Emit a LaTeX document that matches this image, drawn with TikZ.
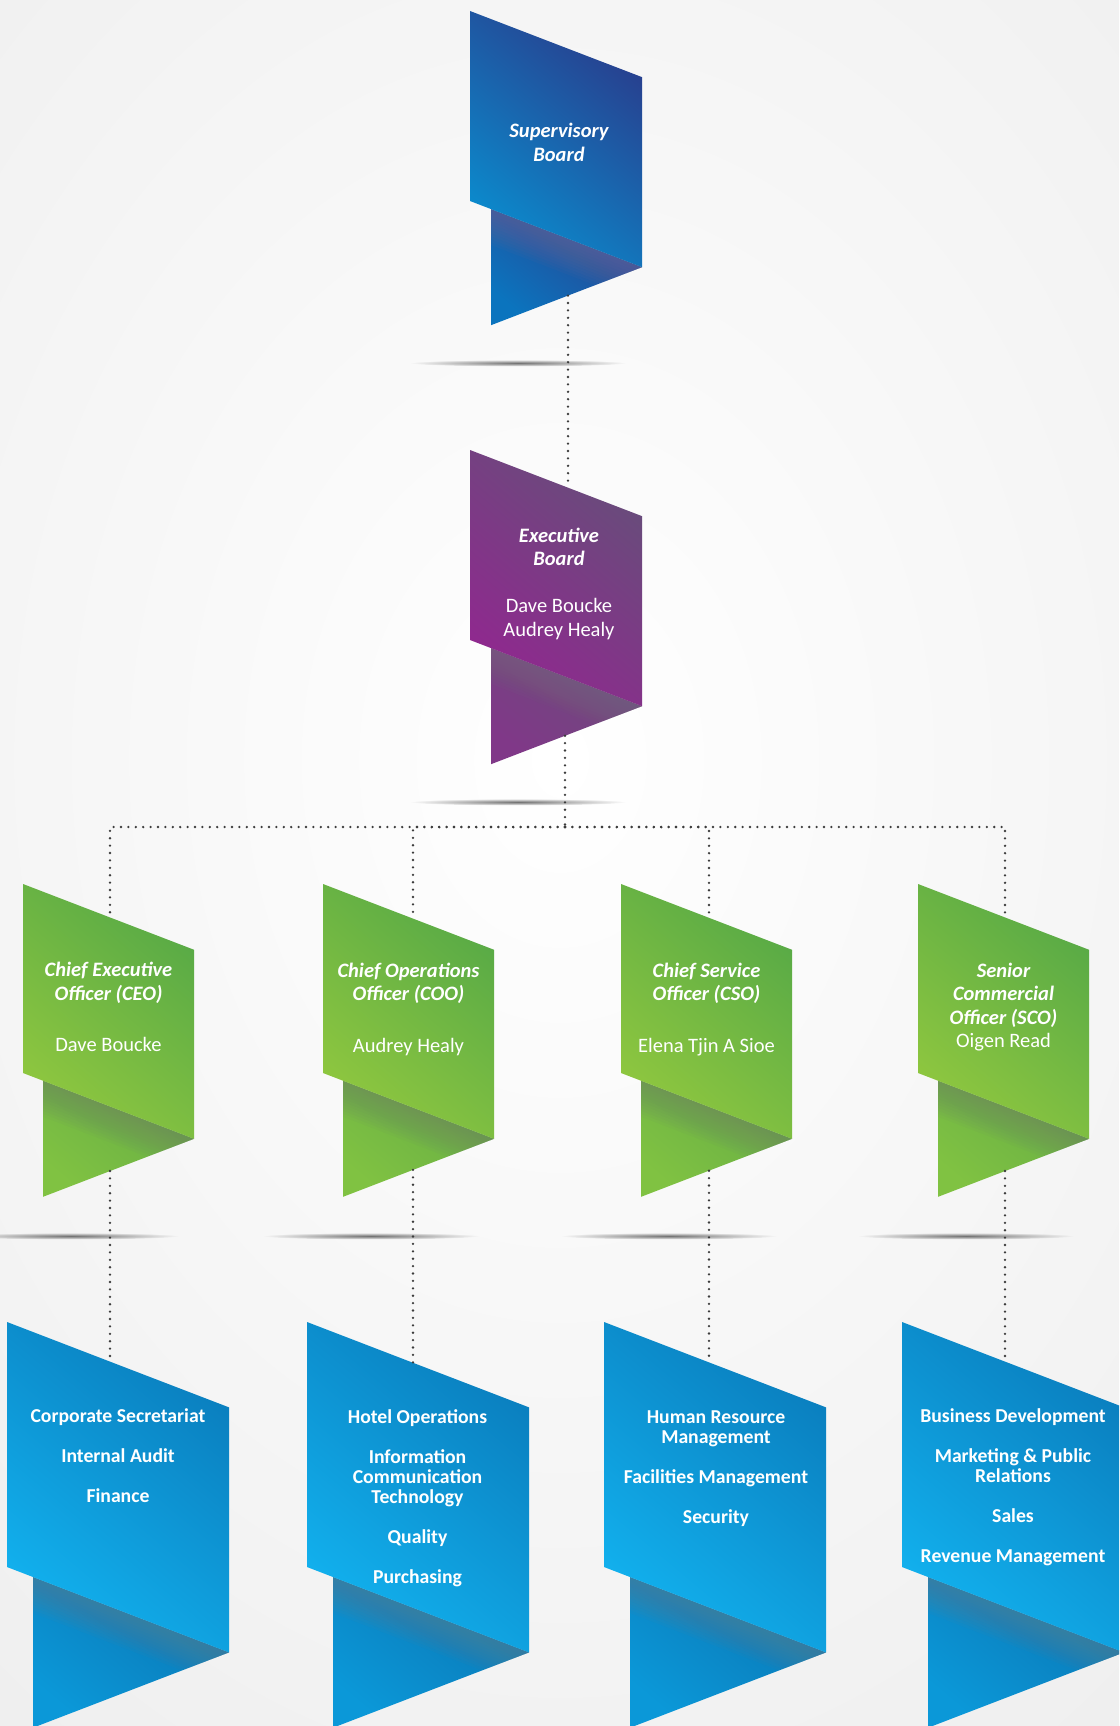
\documentclass[tikz,border=0pt]{standalone}
\usepackage{fontspec}
\setmainfont{Carlito}
\usetikzlibrary{fadings}

\definecolor{bgc}{HTML}{EBEBEB}
% navy (supervisory)
\definecolor{nvupD}{HTML}{283F8E}
\definecolor{nvupL}{HTML}{0B8BCD}
\definecolor{nvlowD}{HTML}{2A4290}
\definecolor{nvlowL}{HTML}{0B74BE}
\definecolor{nvsh}{HTML}{6A6A9A}
% purple (executive)
\definecolor{puupD}{HTML}{684C7B}
\definecolor{puupL}{HTML}{90288F}
\definecolor{pulowD}{HTML}{6C4C7C}
\definecolor{pulowL}{HTML}{803888}
\definecolor{push}{HTML}{76687E}
% green
\definecolor{gnupD}{HTML}{58AA46}
\definecolor{gnupL}{HTML}{8FC73F}
\definecolor{gnlowD}{HTML}{66AD45}
\definecolor{gnlowL}{HTML}{80C242}
\definecolor{gnsh}{HTML}{6E8A62}
% cyan (departments)
\definecolor{cyupD}{HTML}{0A7EBE}
\definecolor{cyupL}{HTML}{12B1EE}
\definecolor{cylowD}{HTML}{0A76B4}
\definecolor{cylowL}{HTML}{0B98D8}
\definecolor{cysh}{HTML}{557F98}
\definecolor{dotc}{HTML}{3C3C3C}

\tikzfading[name=softline, inner color=transparent!0, outer color=transparent!100]

\def\s{0.3845}
% #1 L, #2 T, #3 W, #4 H, #5 d, #6 palette
\newcommand\ribbon[6]{%
  \shade[top color=#6lowD, bottom color=#6lowL, shading angle=-40]
    ({#1+#5},{#2+#4+\s*#5}) -- ({#1+#3},{#2+#4+\s*#3}) -- ({#1+#5},{#2+#4+\s*#5+2*\s*(#3-#5)}) -- cycle;
  \begin{scope}
    \clip ({#1+#5},{#2+#4+\s*#5}) -- ({#1+#3},{#2+#4+\s*#3}) -- ({#1+#5},{#2+#4+\s*#5+2*\s*(#3-#5)}) -- cycle;
    \foreach \k in {1,...,12}{
      \fill[#6sh, opacity=0.075] (#1,{#2+#4}) -- ({#1+#3},{#2+#4+\s*#3}) -- ({#1+#3},{#2+#4+\s*#3+3*\k}) -- (#1,{#2+#4+3*\k}) -- cycle;
    }
  \end{scope}
  \shade[top color=#6upD, bottom color=#6upL, shading angle=-40]
    (#1,#2) -- ({#1+#3},{#2+\s*#3}) -- ({#1+#3},{#2+#4+\s*#3}) -- (#1,{#2+#4}) -- cycle;
}
\newcommand\floorline[2]{%
  \fill[black!55, path fading=softline] ({#1+48},#2) ellipse (108 and 3.4);
}
\newcommand\ti[1]{{\bfseries\itshape #1}}
\newcommand\blk[1]{\begin{tabular}[t]{@{}c@{}}#1\end{tabular}}

\tikzset{
  conn/.style={draw=dotc, line width=2.6pt, line cap=round, dash pattern=on 0pt off 7.4pt},
  txt/.style={text=white, inner sep=0pt, anchor=base, font=\fontsize{20.5}{23.5}\selectfont},
  dept/.style={text=white, inner sep=0pt, anchor=base, font=\fontsize{19.7}{20}\selectfont\bfseries},
}

\begin{document}
\begin{tikzpicture}[x=1pt,y=-1pt]
\clip (0,0) rectangle (1119,1726);
% background
\fill[bgc] (0,0) rectangle (1119,1726);
\shade[inner color=white, outer color=bgc] (560,760) ellipse (1150 and 1500);

% floor shadows
\floorline{470}{363}
\floorline{470}{802}
\foreach \L in {23,323,621,918}{\floorline{\L}{1236}}

% shapes
\ribbon{470}{11}{172}{190}{21}{nv}
\ribbon{470}{450}{172}{190}{21}{pu}
\foreach \L in {23,323,621,918}{\ribbon{\L}{884}{171}{189}{20}{gn}}
\foreach \L in {7,307,604,902}{\ribbon{\L}{1322}{222}{245}{26}{cy}}

% connection points
\coordinate (sbBot) at (568,295.6);
\coordinate (ebTop) at (568,487.7);
\coordinate (ebBot) at (565,735.7);
\coordinate (hub) at (565,827);
\coordinate (ceoTop) at (110,917.5);
\coordinate (cooTop) at (413,918.6);
\coordinate (csoTop) at (709,917.8);
\coordinate (scoTop) at (1005,917.5);
\coordinate (ceoBot) at (110,1171.0);
\coordinate (cooBot) at (413,1169.9);
\coordinate (csoBot) at (709,1170.7);
\coordinate (scoBot) at (1005,1171.0);
\coordinate (dCeoTop) at (110,1361.6);
\coordinate (dCooTop) at (413,1362.8);
\coordinate (dCsoTop) at (709,1362.4);
\coordinate (dScoTop) at (1005,1361.6);

% connectors
\draw[conn] (sbBot) -- (ebTop);
\draw[conn] (ebBot) -- (hub);
\draw[conn] (hub) -| (ceoTop);
\draw[conn] (hub) -| (cooTop);
\draw[conn] (hub) -| (csoTop);
\draw[conn] (hub) -| (scoTop);
\draw[conn] (ceoBot) -- (dCeoTop);
\draw[conn] (cooBot) -- (dCooTop);
\draw[conn] (csoBot) -- (dCsoTop);
\draw[conn] (scoBot) -- (dScoTop);

% texts
\node[txt] (sbtxt) at (559,137.7) {\blk{\ti{Supervisory}\\\ti{Board}}};
\node[txt] (ebtxt) at (559,542) {\blk{\ti{Executive}\\\ti{Board}\\[23.5pt]Dave Boucke\\Audrey Healy}};

\node[txt] (ceotxt) at (108.5,976.7) {\blk{\ti{Chief Executive}\\\ti{Officer (CEO)}\\[28.2pt]Dave Boucke}};
\node[txt] (cootxt) at (408.5,977.3) {\blk{\ti{Chief Operations}\\\ti{Officer (COO)}\\[28.2pt]Audrey Healy}};
\node[txt] (csotxt) at (706.5,977.3) {\blk{\ti{Chief Service}\\\ti{Officer (CSO)}\\[28.2pt]Elena Tjin A Sioe}};
\node[txt] (scotxt) at (1003.5,977.3) {\blk{\ti{Senior}\\\ti{Commercial}\\\ti{Officer (SCO)}\\Oigen Read}};

\node[dept] (ceodep) at (118,1422.7) {\blk{Corporate Secretariat\\[20pt]Internal Audit\\[20pt]Finance}};
\node[dept] (coodep) at (417.5,1423) {\blk{Hotel Operations\\[20pt]Information\\Communication\\Technology\\[20pt]Quality\\[20pt]Purchasing}};
\node[dept] (csodep) at (716,1423) {\blk{Human Resource\\Management\\[20pt]Facilities Management\\[20pt]Security}};
\node[dept] (scodep) at (1013,1422) {\blk{Business Development\\[20pt]Marketing \& Public\\Relations\\[20pt]Sales\\[20pt]Revenue Management}};
\end{tikzpicture}
\end{document}
